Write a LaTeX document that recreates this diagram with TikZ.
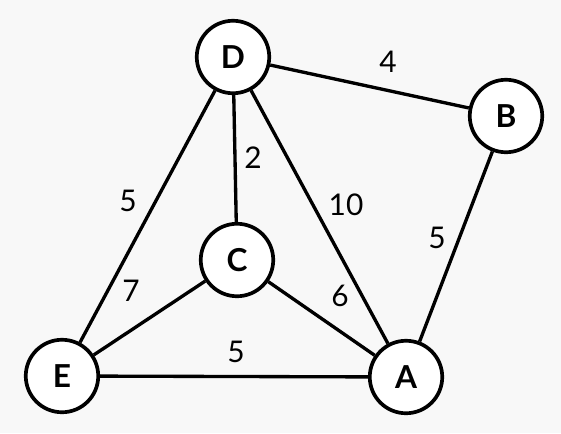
\documentclass[tikz,border=0pt]{standalone}
\usepackage{fontspec}
\setmainfont{Lato}
\definecolor{bgcol}{HTML}{F8F8F8}
\tikzset{
  vtx/.style={circle,draw,fill=white,line width=2.1pt,minimum size=1.45cm,inner sep=0pt,font=\fontsize{18}{21}\selectfont\bfseries},
  edg/.style={line width=1.9pt},
  wlb/.style={inner sep=0pt,font=\fontsize{17}{20}\selectfont}
}
\begin{document}
\begin{tikzpicture}[x=0.02cm,y=-0.02cm]
\fill[bgcol] (0,0) rectangle (561,433);
\useasboundingbox (0,0) rectangle (561,433);
%\draw[help lines] (0,0) grid (561,433);
\foreach \nm/\vx/\vy in {D/233/57,B/506/116,C/237/260,E/62/376,A/406/377}{\node[vtx](\nm) at (\vx,\vy){\nm};}
\foreach \va/\vb in {D/B,D/C,D/E,D/A,B/A,C/E,C/A,E/A}{\draw[edg](\va)--(\vb);}
\foreach \lb/\wt/\lx/\ly in {ldb/4/388/62,ldc/2/253/158,lde/5/128/201,lda/10/346/205,lba/5/437/238,lce/7/131/291,lca/6/340/296,lea/5/236/352}{\node[wlb](\lb) at (\lx,\ly){\wt};}
\end{tikzpicture}
\end{document}
